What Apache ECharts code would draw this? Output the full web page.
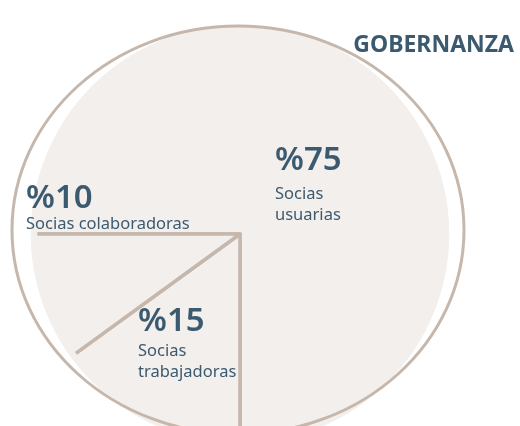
<!DOCTYPE html>
<html>
<head>
<meta charset="utf-8">
<script src="https://cdn.jsdelivr.net/npm/echarts@6/dist/echarts.min.js"></script>
<style>
  html, body { margin: 0; padding: 0; background: #fff; }
  #chart { width: 520px; height: 426px; }
</style>
</head>
<body>
<div id="chart"></div>
<script>
  // datos
  var categorias = ["Socias\nusuarias", "Socias\ntrabajadoras", "Socias colaboradoras"];
  var valores = [75, 15, 10];
  var titulo = "GOBERNANZA";

  var colorTexto = "#3c5a6f";
  var colorLinea = "#c6b7ac";
  var colorFondo = "#f2efec";

  var centro = [240, 234];
  var radio = 206;

  // posición de cada etiqueta (esquina superior izquierda) y alto de la línea del %
  var posEtiquetas = [
    [275, 137],
    [138, 302],
    [26, 183],
  ];
  var altoPct = [47, 39, 31];

  var datos = categorias.map(function (c, i) {
    return { name: c, value: valores[i] };
  });

  var chart = echarts.init(document.getElementById("chart"));

  chart.setOption({
    animation: false,
    title: {
      text: titulo,
      right: 1,
      top: 29,
      textStyle: {
        color: colorTexto,
        fontFamily: "Noto Sans",
        fontSize: 23,
        fontWeight: "bold",
      },
    },
    graphic: [
      {
        // tapa el borde exterior del pastel
        type: "circle",
        z: 3,
        silent: true,
        shape: { cx: centro[0], cy: centro[1], r: radio },
        style: { fill: null, stroke: colorFondo, lineWidth: 6.5 },
      },
      {
        // contorno dibujado a mano
        type: "ellipse",
        z: 4,
        silent: true,
        shape: { cx: 238, cy: 230, rx: 226, ry: 204 },
        style: { fill: null, stroke: colorLinea, lineWidth: 3 },
      },
    ],
    series: [
      {
        // sectores
        type: "pie",
        z: 2,
        center: centro,
        radius: radio,
        startAngle: 180,
        clockwise: true,
        silent: true,
        itemStyle: {
          color: colorFondo,
          borderColor: colorLinea,
          borderWidth: 3.5,
        },
        label: { show: false },
        labelLine: { show: false },
        data: datos,
      },
      {
        // etiquetas, por encima del contorno
        type: "pie",
        z: 5,
        center: centro,
        radius: radio,
        startAngle: 180,
        clockwise: true,
        silent: true,
        itemStyle: {
          color: "rgba(0,0,0,0)",
          borderWidth: 0,
        },
        labelLine: { show: false },
        label: {
          show: true,
          position: "inside",
          formatter: function (p) {
            return "{p|%" + p.value + "}\n{n|" + p.name + "}";
          },
          rich: {
            p: {
              color: colorTexto,
              fontFamily: "Noto Sans",
              fontSize: 33,
              fontWeight: 600,
              lineHeight: 40,
              align: "left",
            },
            n: {
              color: colorTexto,
              fontFamily: "Noto Sans",
              fontSize: 16.5,
              lineHeight: 21,
              align: "left",
            },
          },
        },
        labelLayout: function (params) {
          var pos = posEtiquetas[params.dataIndex];
          return {
            x: pos[0],
            y: pos[1],
            align: "left",
            verticalAlign: "top",
          };
        },
        data: datos.map(function (d, i) {
          return {
            name: d.name,
            value: d.value,
            label: { rich: { p: { lineHeight: altoPct[i] } } },
          };
        }),
      },
    ],
  });
</script>
</body>
</html>
